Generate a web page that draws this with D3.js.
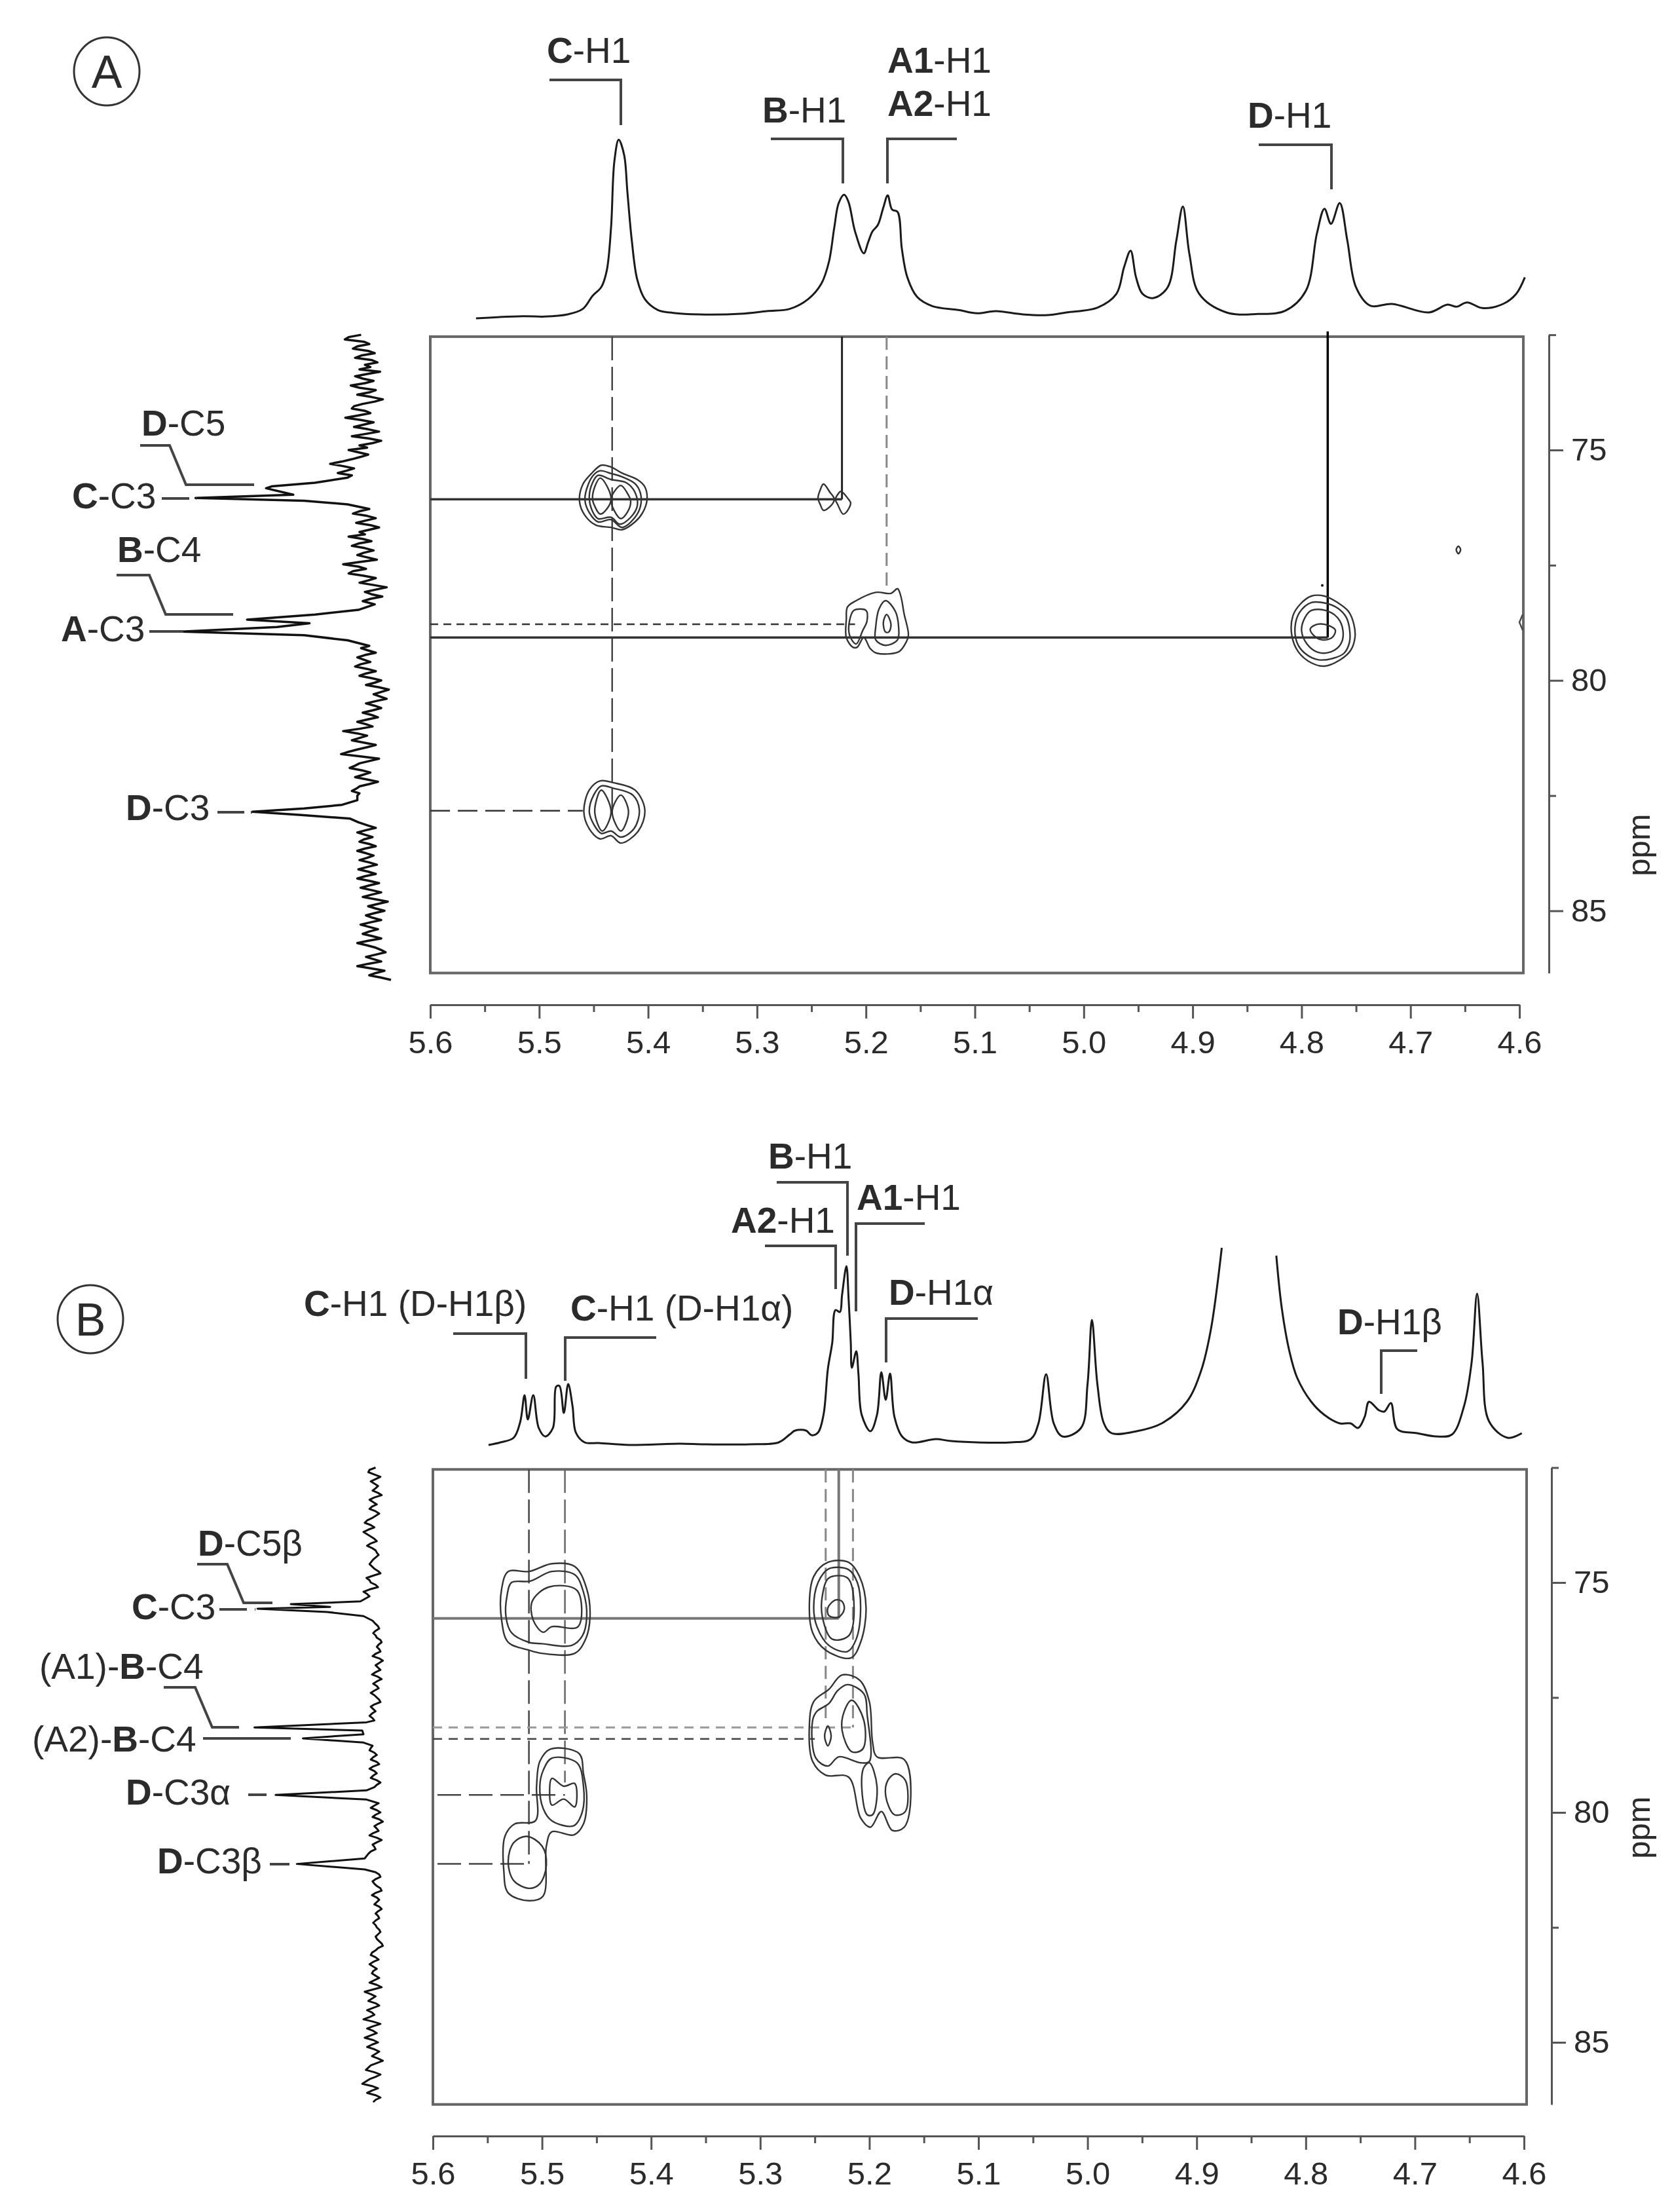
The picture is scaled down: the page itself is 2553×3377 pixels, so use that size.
<!DOCTYPE html>
<html lang="en">
<head>
<meta charset="UTF-8">
<script src="https://d3js.org/d3.v7.min.js"></script>
<title>HSQC spectra</title>
<style>
  body { margin: 0; background: #fff; }
  text { font-family: "Liberation Sans", Arial, sans-serif; fill: #2b2b2b; }
</style>
</head>
<body>
<script>
// axis ticks
var xMajor = [5.6, 5.5, 5.4, 5.3, 5.2, 5.1, 5.0, 4.9, 4.8, 4.7, 4.6];
var xMinor = [5.55, 5.45, 5.35, 5.25, 5.15, 5.05, 4.95, 4.85, 4.75, 4.65];
var yMajor = [75, 80, 85];
var yMinor = [72.5, 77.5, 82.5];

// panel A, 1H trace: [ppm, intensity]
var protonA = [[5.558,12],[5.515,22],[5.495,20],[5.474,30],[5.460,55],[5.451,115],[5.443,155],[5.438,230],[5.434,430],[5.431,730],[5.427,830],[5.422,760],[5.419,590],[5.415,370],[5.410,190],[5.403,100],[5.391,50],[5.377,37],[5.353,30],[5.315,33],[5.291,45],[5.270,55],[5.253,100],[5.241,170],[5.234,270],[5.229,430],[5.225,540],[5.220,578],[5.216,545],[5.210,410],[5.202,310],[5.198,360],[5.194,410],[5.189,440],[5.184,520],[5.180,575],[5.176,510],[5.171,500],[5.167,330],[5.162,200],[5.153,110],[5.139,68],[5.115,50],[5.098,35],[5.081,45],[5.056,30],[5.033,27],[5.016,39],[4.987,62],[4.970,124],[4.963,246],[4.957,322],[4.952,200],[4.946,124],[4.936,105],[4.923,154],[4.915,368],[4.909,524],[4.903,307],[4.894,124],[4.869,39],[4.840,32],[4.815,47],[4.796,139],[4.786,399],[4.779,514],[4.773,445],[4.765,540],[4.758,368],[4.750,154],[4.737,70],[4.717,78],[4.683,39],[4.666,75],[4.658,65],[4.648,85],[4.634,59],[4.615,78],[4.603,124],[4.595,200]];

// panel A, 13C trace: [ppm, intensity]
var carbonA = [[72.5,55],[72.55,78],[72.6,85],[72.65,50],[72.7,40],[72.75,62],[72.8,70],[72.85,42],[72.9,30],[72.95,55],[73.0,66],[73.05,35],[73.1,25],[73.15,48],[73.2,38],[73.25,58],[73.3,20],[73.35,44],[73.4,66],[73.45,52],[73.5,32],[73.55,48],[73.6,74],[73.65,58],[73.7,28],[73.75,40],[73.8,62],[73.85,36],[73.9,15],[73.95,30],[74.0,52],[74.05,68],[74.1,72],[74.15,48],[74.2,38],[74.25,60],[74.3,84],[74.35,55],[74.4,32],[74.45,50],[74.5,68],[74.55,42],[74.6,22],[74.65,46],[74.7,72],[74.75,40],[74.8,18],[74.85,34],[74.9,58],[74.95,44],[75.0,78],[75.05,60],[75.1,42],[75.15,56],[75.2,72],[75.25,90],[75.3,112],[75.35,88],[75.4,68],[75.45,82],[75.5,98],[75.55,72],[75.6,80],[75.71,140],[75.79,220],[75.83,230],[75.97,180],[76.04,360],[76.10,160],[76.18,80],[76.28,40],[76.33,58],[76.38,70],[76.43,44],[76.48,28],[76.53,46],[76.58,64],[76.63,38],[76.68,22],[76.73,40],[76.78,58],[76.83,48],[76.88,78],[76.93,52],[76.98,36],[77.03,60],[77.08,72],[77.13,48],[77.18,32],[77.23,50],[77.28,62],[77.33,44],[77.38,26],[77.43,58],[77.48,88],[77.53,60],[77.58,46],[77.63,70],[77.68,78],[77.73,50],[77.78,28],[77.83,42],[77.88,58],[77.93,32],[77.98,8],[78.03,28],[78.08,48],[78.13,36],[78.18,16],[78.23,38],[78.28,52],[78.35,30],[78.47,60],[78.57,140],[78.68,265],[78.76,150],[78.84,210],[78.94,385],[79.02,160],[79.13,80],[79.25,40],[79.3,55],[79.35,42],[79.4,28],[79.45,48],[79.5,62],[79.55,50],[79.6,38],[79.65,56],[79.7,66],[79.75,44],[79.8,28],[79.85,46],[79.9,58],[79.95,36],[80.0,18],[80.05,30],[80.1,46],[80.15,22],[80.2,4],[80.25,18],[80.3,32],[80.35,20],[80.4,8],[80.45,28],[80.5,46],[80.55,30],[80.6,18],[80.65,34],[80.7,52],[80.75,36],[80.8,24],[80.85,44],[80.9,62],[80.95,46],[81.0,34],[81.05,58],[81.1,88],[81.15,62],[81.2,44],[81.25,58],[81.3,72],[81.35,50],[81.4,28],[81.45,44],[81.5,62],[81.55,78],[81.6,92],[81.65,56],[81.7,22],[81.75,40],[81.8,58],[81.85,66],[81.9,76],[81.95,54],[82.0,38],[82.05,52],[82.1,66],[82.15,44],[82.2,24],[82.25,40],[82.3,58],[82.35,64],[82.4,72],[82.45,58],[82.5,62],[82.6,62],[82.7,90],[82.78,160],[82.85,255],[82.92,165],[83.0,75],[83.08,60],[83.15,42],[83.2,28],[83.25,46],[83.3,62],[83.35,48],[83.4,34],[83.45,50],[83.5,58],[83.55,40],[83.6,28],[83.65,48],[83.7,62],[83.75,46],[83.8,32],[83.85,44],[83.9,58],[83.95,40],[84.0,26],[84.05,44],[84.1,60],[84.15,42],[84.2,28],[84.25,48],[84.3,62],[84.35,40],[84.4,22],[84.45,40],[84.5,56],[84.55,36],[84.6,18],[84.65,36],[84.7,52],[84.75,28],[84.8,6],[84.85,24],[84.9,42],[84.95,28],[85.0,12],[85.05,30],[85.1,46],[85.15,34],[85.2,18],[85.25,38],[85.3,56],[85.35,40],[85.4,24],[85.45,40],[85.5,52],[85.55,34],[85.6,18],[85.65,42],[85.7,62],[85.75,44],[85.8,28],[85.85,18],[85.9,10],[85.95,28],[86.0,46],[86.05,32],[86.1,18],[86.15,42],[86.2,62],[86.25,36],[86.3,12],[86.35,28],[86.4,40],[86.45,18],[86.5,0]];

// panel A cross peaks: contours of [1H ppm, 13C ppm]
var contoursA = [
  // C-H1 / C-C3
  [[5.443,75.33],[5.434,75.37],[5.424,75.50],[5.410,75.64],[5.403,75.80],[5.401,76.08],[5.405,76.36],[5.412,76.56],[5.424,76.73],[5.434,76.68],[5.448,76.63],[5.458,76.42],[5.463,76.11],[5.460,75.75],[5.452,75.51]],
  [[5.444,75.45],[5.434,75.51],[5.424,75.58],[5.412,75.73],[5.407,75.94],[5.407,76.22],[5.412,76.46],[5.424,76.68],[5.434,76.51],[5.446,76.56],[5.454,76.36],[5.458,76.08],[5.455,75.75],[5.450,75.54]],
  [[5.446,75.55],[5.434,75.64],[5.420,75.71],[5.412,75.92],[5.410,76.22],[5.416,76.46],[5.426,76.61],[5.434,76.46],[5.446,76.49],[5.452,76.28],[5.454,76.00],[5.451,75.71]],
  [[5.444,75.61],[5.437,75.82],[5.434,76.07],[5.437,76.25],[5.444,76.39],[5.449,76.22],[5.451,76.07],[5.449,75.80]],
  [[5.425,75.77],[5.419,75.94],[5.416,76.11],[5.419,76.35],[5.425,76.49],[5.431,76.32],[5.434,76.07],[5.431,75.90]],
  // B-H1 / C-C3
  [[5.239,75.74],[5.233,75.92],[5.229,76.07],[5.234,76.25],[5.239,76.31],[5.242,76.18],[5.244,76.04],[5.242,75.87]],
  [[5.223,75.90],[5.216,76.07],[5.214,76.15],[5.218,76.35],[5.221,76.39],[5.226,76.18],[5.228,76.07],[5.226,75.97]],
  // A1/A2-H1 / A-C3
  [[5.218,78.67],[5.217,78.41],[5.209,78.27],[5.191,78.09],[5.177,78.11],[5.171,78.01],[5.168,78.17],[5.165,78.55],[5.161,79.02],[5.164,79.21],[5.170,79.38],[5.190,79.41],[5.196,79.31],[5.202,79.07],[5.208,79.28],[5.212,79.28],[5.218,79.07]],
  [[5.215,78.70],[5.211,78.48],[5.200,78.48],[5.199,78.71],[5.203,78.92],[5.209,79.21],[5.215,79.02]],
  [[5.182,78.27],[5.173,78.50],[5.170,78.84],[5.171,79.12],[5.182,79.24],[5.191,79.12],[5.191,78.84],[5.188,78.45]],
  [[5.181,78.57],[5.177,78.78],[5.179,78.95],[5.182,78.95],[5.184,78.74]],
  // D-H1 / A-C3
  [[4.791,78.17],[4.779,78.17],[4.767,78.31],[4.757,78.50],[4.752,78.78],[4.751,79.07],[4.755,79.35],[4.765,79.56],[4.779,79.69],[4.791,79.62],[4.803,79.38],[4.809,79.02],[4.808,78.60],[4.801,78.34]],
  [[4.791,78.31],[4.777,78.33],[4.767,78.43],[4.759,78.63],[4.756,78.88],[4.756,79.17],[4.761,79.41],[4.771,79.52],[4.785,79.55],[4.797,79.41],[4.804,79.19],[4.806,78.84],[4.802,78.53]],
  [[4.791,78.48],[4.778,78.48],[4.767,78.64],[4.762,78.92],[4.764,79.21],[4.773,79.38],[4.785,79.39],[4.795,79.21],[4.800,78.92],[4.797,78.64]],
  [[4.792,78.88],[4.785,78.78],[4.775,78.81],[4.769,78.91],[4.772,79.07],[4.781,79.12],[4.789,79.02]],
  // C-H1 / D-C3
  [[5.444,82.18],[5.432,82.22],[5.412,82.38],[5.403,82.81],[5.409,83.27],[5.425,83.53],[5.434,83.37],[5.444,83.44],[5.454,83.22],[5.459,82.85],[5.454,82.38]],
  [[5.443,82.29],[5.432,82.34],[5.414,82.49],[5.408,82.82],[5.413,83.22],[5.425,83.40],[5.434,83.27],[5.443,83.32],[5.450,83.12],[5.454,82.85],[5.450,82.49]],
  [[5.443,82.38],[5.434,82.85],[5.442,83.27],[5.449,82.85]],
  [[5.425,82.49],[5.418,82.85],[5.425,83.27],[5.433,82.85]],
  // small spot near 4.65
  [[4.656,77.09],[4.654,77.16],[4.656,77.25],[4.658,77.16]]
];

// panel B, 1H trace, broken by the clipped water peak
var protonB1 = [[5.549,4],[5.538,8],[5.526,15],[5.520,39],[5.516,80],[5.513,43],[5.508,80],[5.503,30],[5.497,17],[5.490,30],[5.487,93],[5.484,94],[5.480,53],[5.476,97],[5.472,63],[5.469,23],[5.461,8],[5.448,7],[5.420,4],[5.374,6],[5.351,5],[5.310,5],[5.283,8],[5.273,20],[5.268,26],[5.258,26],[5.253,19],[5.247,23],[5.242,50],[5.238,120],[5.234,160],[5.231,210],[5.227,207],[5.225,233],[5.221,277],[5.219,227],[5.217,160],[5.216,122],[5.212,147],[5.210,113],[5.207,50],[5.199,25],[5.193,50],[5.189,115],[5.185,73],[5.181,113],[5.177,47],[5.170,17],[5.161,8],[5.139,13],[5.125,10],[5.070,8],[5.052,13],[5.045,37],[5.038,112],[5.031,37],[5.023,17],[5.006,30],[5.000,97],[4.996,195],[4.991,97],[4.985,37],[4.978,22],[4.955,25],[4.932,37],[4.909,70],[4.896,117],[4.887,180],[4.877,305]];
var protonB2 = [[4.827,293],[4.822,213],[4.815,147],[4.808,107],[4.795,70],[4.783,50],[4.769,37],[4.759,37],[4.752,30],[4.746,47],[4.742,70],[4.733,57],[4.728,55],[4.722,68],[4.716,28],[4.698,22],[4.680,17],[4.666,20],[4.655,63],[4.648,130],[4.643,235],[4.638,130],[4.632,40],[4.615,15],[4.602,22]];

// panel B, 13C trace
var carbonB = [[72.5,20],[72.55,30],[72.6,32],[72.65,22],[72.7,12],[72.75,20],[72.8,28],[72.85,22],[72.9,16],[72.95,20],[73.0,25],[73.05,16],[73.1,10],[73.15,22],[73.2,30],[73.25,24],[73.3,18],[73.35,26],[73.4,30],[73.45,20],[73.5,14],[73.55,20],[73.6,26],[73.65,34],[73.7,38],[73.75,28],[73.8,22],[73.85,32],[73.9,40],[73.95,34],[74.0,28],[74.05,22],[74.1,18],[74.15,28],[74.2,34],[74.25,26],[74.3,20],[74.35,18],[74.4,15],[74.5,24],[74.6,30],[74.65,26],[74.7,22],[74.75,16],[74.8,12],[74.85,24],[74.9,35],[74.95,30],[75.0,28],[75.05,20],[75.1,16],[75.15,30],[75.2,40],[75.25,34],[75.3,30],[75.41,45],[75.47,160],[75.53,95],[75.57,215],[75.64,100],[75.73,40],[75.83,25],[75.9,20],[75.95,16],[76.0,14],[76.05,20],[76.1,24],[76.15,20],[76.2,18],[76.25,12],[76.3,10],[76.35,15],[76.4,18],[76.45,14],[76.5,12],[76.55,20],[76.6,25],[76.65,14],[76.7,8],[76.75,14],[76.8,20],[76.85,16],[76.9,12],[76.95,20],[77.0,26],[77.05,16],[77.1,10],[77.15,18],[77.2,24],[77.25,18],[77.3,15],[77.35,22],[77.4,28],[77.45,22],[77.5,18],[77.55,14],[77.6,12],[77.65,22],[77.7,28],[77.75,24],[77.8,20],[77.85,26],[77.9,30],[77.95,25],[78.0,22],[78.04,35],[78.15,220],[78.22,42],[78.3,40],[78.39,140],[78.48,40],[78.55,25],[78.6,28],[78.65,30],[78.7,22],[78.75,18],[78.8,24],[78.85,28],[78.9,18],[78.95,14],[79.0,24],[79.05,30],[79.1,22],[79.15,18],[79.2,24],[79.25,28],[79.3,18],[79.35,12],[79.4,18],[79.45,22],[79.52,35],[79.62,185],[79.72,35],[79.8,15],[79.85,22],[79.9,28],[79.95,18],[80.0,12],[80.05,20],[80.1,25],[80.15,14],[80.2,8],[80.25,16],[80.3,22],[80.35,18],[80.4,15],[80.45,24],[80.5,30],[80.55,18],[80.6,10],[80.65,18],[80.7,25],[80.75,22],[80.8,20],[80.85,28],[80.9,32],[81.0,38],[81.12,150],[81.24,38],[81.3,20],[81.35,14],[81.4,12],[81.45,20],[81.5,25],[81.55,22],[81.6,18],[81.65,12],[81.7,10],[81.75,20],[81.8,26],[81.85,18],[81.9,14],[81.95,18],[82.0,22],[82.05,14],[82.1,10],[82.15,16],[82.2,20],[82.25,16],[82.3,14],[82.35,20],[82.4,24],[82.45,20],[82.5,18],[82.55,14],[82.6,12],[82.65,16],[82.7,20],[82.75,18],[82.8,14],[82.85,10],[82.9,8],[82.95,16],[83.0,20],[83.05,26],[83.1,28],[83.15,20],[83.2,15],[83.25,24],[83.3,30],[83.35,24],[83.4,18],[83.45,24],[83.5,26],[83.55,20],[83.6,14],[83.65,22],[83.7,30],[83.75,18],[83.8,10],[83.85,24],[83.9,38],[83.95,28],[84.0,20],[84.05,26],[84.1,32],[84.15,20],[84.2,14],[84.25,24],[84.3,34],[84.35,26],[84.4,22],[84.45,30],[84.5,40],[84.55,24],[84.6,12],[84.65,24],[84.7,34],[84.75,24],[84.8,18],[84.85,28],[84.9,38],[84.95,24],[85.0,16],[85.05,26],[85.1,34],[85.15,22],[85.2,14],[85.25,20],[85.3,26],[85.35,16],[85.4,8],[85.45,18],[85.5,28],[85.55,32],[85.6,36],[85.65,22],[85.7,12],[85.75,20],[85.8,30],[85.85,36],[85.9,42],[85.95,26],[86.0,16],[86.05,26],[86.1,34],[86.15,20],[86.2,12],[86.25,20],[86.3,24]];

// panel B cross peaks
var contoursB = [
  [[5.531,74.76],[5.512,74.76],[5.491,74.59],[5.470,74.65],[5.459,75.14],[5.456,75.75],[5.460,76.23],[5.470,76.54],[5.500,76.54],[5.512,76.47],[5.531,76.30],[5.537,75.82],[5.537,75.14]],
  [[5.528,75.00],[5.511,74.97],[5.491,74.76],[5.470,74.83],[5.462,75.21],[5.459,75.75],[5.463,76.16],[5.473,76.37],[5.500,76.33],[5.512,76.30],[5.528,76.09],[5.533,75.75],[5.532,75.28]],
  [[5.509,75.41],[5.494,75.10],[5.468,75.17],[5.467,75.96],[5.491,75.96],[5.499,76.08],[5.508,75.82]],
  [[5.238,74.56],[5.219,74.56],[5.209,74.87],[5.203,75.55],[5.208,76.30],[5.217,76.64],[5.240,76.47],[5.252,76.09],[5.255,75.55],[5.251,74.87]],
  [[5.237,74.70],[5.219,74.72],[5.211,75.00],[5.208,75.55],[5.212,76.23],[5.220,76.50],[5.237,76.37],[5.248,75.96],[5.251,75.55],[5.247,75.00]],
  [[5.237,74.90],[5.220,74.90],[5.214,75.55],[5.219,76.16],[5.234,76.23],[5.243,75.75],[5.243,75.28]],
  [[5.231,75.38],[5.225,75.41],[5.223,75.58],[5.228,75.75],[5.237,75.72],[5.238,75.55]],
  [[5.225,77.01],[5.209,77.12],[5.200,77.59],[5.197,78.48],[5.193,78.79],[5.168,78.85],[5.162,79.64],[5.168,80.32],[5.179,80.39],[5.189,79.98],[5.199,80.32],[5.208,80.12],[5.219,79.23],[5.240,79.19],[5.252,78.89],[5.255,78.14],[5.251,77.59],[5.237,77.32]],
  [[5.220,77.22],[5.205,77.42],[5.202,77.87],[5.200,78.89],[5.208,78.92],[5.228,78.79],[5.238,78.99],[5.249,78.82],[5.252,78.00],[5.248,77.80],[5.237,77.63],[5.229,77.35]],
  [[5.216,77.56],[5.205,78.00],[5.206,78.62],[5.216,78.68],[5.225,78.21],[5.223,77.80]],
  [[5.238,78.12],[5.235,78.34],[5.238,78.55],[5.241,78.34]],
  [[5.200,78.92],[5.193,79.43],[5.197,80.05],[5.202,80.05],[5.207,79.43],[5.205,79.02]],
  [[5.176,79.16],[5.167,79.30],[5.167,79.98],[5.177,80.05],[5.185,79.64],[5.183,79.30]],
  [[5.492,78.62],[5.466,78.72],[5.462,79.16],[5.459,79.64],[5.462,80.25],[5.471,80.49],[5.491,80.42],[5.496,80.73],[5.499,81.82],[5.512,81.92],[5.531,81.75],[5.535,81.27],[5.534,80.52],[5.525,80.25],[5.506,80.18],[5.505,79.43],[5.502,78.89]],
  [[5.491,78.82],[5.468,78.92],[5.462,79.43],[5.463,79.98],[5.471,80.29],[5.491,80.18],[5.499,79.91],[5.502,79.43],[5.499,79.09]],
  [[5.491,79.26],[5.480,79.43],[5.470,79.37],[5.470,79.88],[5.480,79.71],[5.491,79.84],[5.493,79.54]],
  [[5.514,80.52],[5.500,80.73],[5.496,81.14],[5.502,81.55],[5.512,81.65],[5.526,81.48],[5.531,81.07],[5.526,80.66]]
];

var svg = d3.select("body").append("svg")
  .attr("width", 2553)
  .attr("height", 3377);

// scales of both panels
var xA = d3.scaleLinear().domain([5.6, 4.6]).range([657, 2320]);
var yA = d3.scaleLinear().domain([75, 85]).range([687, 1390.5]);
var hA = d3.scaleLinear().domain([0, 930]).range([490, 180]);
var cA = d3.scaleLinear().domain([0, 720]).range([597, 0]);

var xB = d3.scaleLinear().domain([5.6, 4.6]).range([661, 2327]);
var yB = d3.scaleLinear().domain([75, 85]).range([2416, 3118]);
var hB = d3.scaleLinear().domain([0, 400]).range([2210, 1810]);
var cB = d3.scaleLinear().domain([0, 640]).range([592, 0]);

function drawAxes(x, y, rectRight, axisY, axisX) {
  var top = y(72.54), bottom = y(86.35);
  svg.append("rect")
    .attr("x", x(5.6)).attr("y", top)
    .attr("width", rectRight - x(5.6)).attr("height", bottom - top)
    .attr("fill", "none").attr("stroke", "#666").attr("stroke-width", 4);

  var bottomMinor = d3.axisBottom(x).tickValues(xMinor).tickSize(11).tickFormat("").tickSizeOuter(0);
  var bottomMajor = d3.axisBottom(x).tickValues(xMajor).tickSize(21).tickPadding(18).tickSizeOuter(0)
    .tickFormat(d3.format(".1f"));
  [bottomMinor, bottomMajor].forEach(function (a) {
    var g = svg.append("g").attr("transform", "translate(0," + axisY + ")").call(a);
    styleAxis(g);
  });

  var yFull = y.copy().domain([72.5, 86.35]).range([y(72.5), y(86.35)]);
  var rightMinor = d3.axisRight(yFull).tickValues(yMinor).tickSize(11).tickFormat("").tickSizeOuter(0);
  var rightMajor = d3.axisRight(yFull).tickValues(yMajor).tickSize(22).tickPadding(12).tickSizeOuter(0);
  [rightMinor, rightMajor].forEach(function (a) {
    var g = svg.append("g").attr("transform", "translate(" + axisX + ",0)").call(a);
    styleAxis(g);
  });
}

function styleAxis(g) {
  g.selectAll("path, line").attr("stroke", "#555").attr("stroke-width", 3);
  g.selectAll("text").attr("font-size", 49).attr("font-family", "Liberation Sans").attr("fill", "#2b2b2b");
}

function protonTrace(points, x, h) {
  var line = d3.line()
    .x(function (d) { return x(d[0]); })
    .y(function (d) { return h(d[1]); })
    .curve(d3.curveCatmullRom.alpha(0.5));
  svg.append("path").attr("d", line(points))
    .attr("fill", "none").attr("stroke", "#1a1a1a").attr("stroke-width", 3);
}

function carbonTrace(points, y, c, width) {
  var line = d3.line()
    .x(function (d) { return c(d[1]); })
    .y(function (d) { return y(d[0]); });
  svg.append("path").attr("d", line(points))
    .attr("fill", "none").attr("stroke", "#111").attr("stroke-width", width)
    .attr("stroke-linejoin", "round");
}

function drawContours(list, x, y) {
  var line = d3.line()
    .x(function (d) { return x(d[0]); })
    .y(function (d) { return y(d[1]); })
    .curve(d3.curveCatmullRomClosed.alpha(0.5));
  svg.append("g").selectAll("path").data(list).enter().append("path")
    .attr("d", line)
    .attr("fill", "none").attr("stroke", "#333").attr("stroke-width", 2.4);
}

function seg(x1, y1, x2, y2, color, width, dash) {
  svg.append("line")
    .attr("x1", x1).attr("y1", y1).attr("x2", x2).attr("y2", y2)
    .attr("stroke", color).attr("stroke-width", width)
    .attr("stroke-dasharray", dash || null);
}

function poly(pts, color, width) {
  svg.append("polyline")
    .attr("points", pts.join(" "))
    .attr("fill", "none").attr("stroke", color || "#444").attr("stroke-width", width || 4);
}

function label(x, y, pre, bold, post) {
  var t = svg.append("text").attr("x", x).attr("y", y).attr("font-size", 55);
  if (pre) t.append("tspan").text(pre);
  t.append("tspan").attr("font-weight", "bold").text(bold);
  if (post) t.append("tspan").text(post);
}

function panelMark(cx, cy, name) {
  svg.append("ellipse").attr("cx", cx).attr("cy", cy).attr("rx", 50).attr("ry", 52)
    .attr("fill", "none").attr("stroke", "#333").attr("stroke-width", 3);
  svg.append("text").attr("x", cx).attr("y", cy + 25).attr("text-anchor", "middle")
    .attr("font-size", 70).text(name);
}

function ppmLabel(y) {
  svg.append("text").attr("transform", "translate(2519," + y + ") rotate(-90)")
    .attr("text-anchor", "middle").attr("font-size", 49).text("ppm");
}

// ---------- panel A ----------
drawAxes(xA, yA, 2326, 1534, 2365);
protonTrace(protonA, xA, hA);
carbonTrace(carbonA, yA, cA, 3.5);

// guide lines
seg(xA(5.433), yA(72.54), xA(5.433), yA(82.83), "#444", 2.5, "36,10");
seg(xA(5.222), yA(72.54), xA(5.222), yA(76.07), "#222", 3);
seg(xA(5.181), yA(72.54), xA(5.181), yA(78.0), "#888", 3, "20,10");
seg(xA(4.776), 506, xA(4.776), yA(79.07), "#000", 3.5);
seg(xA(5.6), yA(76.07), xA(5.222), yA(76.07), "#333", 3.5);
seg(xA(5.6), yA(79.07), xA(4.776), yA(79.07), "#333", 3.5);
seg(xA(5.6), yA(78.78), xA(5.21), yA(78.78), "#333", 2.5, "12,8");
seg(xA(5.6), yA(82.83), xA(5.46), yA(82.83), "#333", 2.5, "30,12");

drawContours(contoursA, xA, yA);
svg.append("circle").attr("cx", xA(4.781)).attr("cy", yA(77.94)).attr("r", 2).attr("fill", "#111");
poly([[xA(4.597), yA(78.57)], [xA(4.600), yA(78.74)], [xA(4.597), yA(78.91)]], "#444", 2.4);

panelMark(163, 109, "A");
ppmLabel(1290);

label(835, 96, "", "C", "-H1");
poly([[839, 122], [948, 122], [948, 191]]);
label(1164, 187, "", "B", "-H1");
poly([[1177, 212], [1287, 212], [1287, 280]]);
label(1355, 111, "", "A1", "-H1");
label(1355, 177, "", "A2", "-H1");
poly([[1461, 212], [1355, 212], [1355, 280]]);
label(1905, 195, "", "D", "-H1");
poly([[1922, 221], [2033, 221], [2033, 289]]);

label(216, 665, "", "D", "-C5");
poly([[214, 680], [259, 680], [284, 740], [388, 740]]);
label(110, 776, "", "C", "-C3");
seg(247, 761, 300, 761, "#444", 4, "42,10");
label(179, 858, "", "B", "-C4");
poly([[178, 878], [228, 878], [253, 938], [356, 938]]);
label(93, 979, "", "A", "-C3");
seg(228, 964, 280, 964, "#444", 4);
label(192, 1252, "", "D", "-C3");
seg(332, 1240, 385, 1240, "#444", 4, "41,10");

// ---------- panel B ----------
drawAxes(xB, yB, 2331, 3261, 2369);
protonTrace(protonB1, xB, hB);
protonTrace(protonB2, xB, hB);
carbonTrace(carbonB, yB, cB, 3);

seg(xB(5.512), yB(72.54), xB(5.512), yB(81.12), "#444", 2.5, "36,10");
seg(xB(5.479), yB(72.54), xB(5.479), yB(79.35), "#666", 2.5, "36,10");
seg(xB(5.240), yB(72.54), xB(5.240), yB(77.95), "#888", 3, "20,10");
seg(xB(5.215), yB(72.54), xB(5.215), yB(78.15), "#888", 3, "20,10");
seg(xB(5.228), yB(72.54), xB(5.228), yB(75.78), "#777", 4);
seg(xB(5.6), yB(75.78), xB(5.228), yB(75.78), "#777", 4);
seg(xB(5.6), yB(78.15), xB(5.215), yB(78.15), "#999", 3, "14,10");
seg(xB(5.6), yB(78.40), xB(5.25), yB(78.40), "#444", 2.5, "14,10");
seg(668, yB(79.62), xB(5.479), yB(79.62), "#444", 2.5, "36,12");
seg(668, yB(81.12), xB(5.512), yB(81.12), "#444", 2.5, "36,12");

drawContours(contoursB, xB, yB);

panelMark(138, 2014, "B");
ppmLabel(2790);

label(464, 2009, "", "C", "-H1 (D-H1\u03b2)");
poly([[692, 2036], [803, 2036], [803, 2105]]);
label(871, 2016, "", "C", "-H1 (D-H1\u03b1)");
poly([[1002, 2042], [863, 2042], [863, 2108]]);
label(1173, 1784, "", "B", "-H1");
poly([[1186, 1805], [1294, 1805], [1294, 1917]]);
label(1308, 1847, "", "A1", "-H1");
poly([[1412, 1868], [1307, 1868], [1307, 2002]]);
label(1116, 1882, "", "A2", "-H1");
poly([[1168, 1902], [1276, 1902], [1276, 1968]]);
label(1357, 1992, "", "D", "-H1\u03b1");
poly([[1493, 2013], [1353, 2013], [1353, 2080]]);
label(2042, 2037, "", "D", "-H1\u03b2");
poly([[2164, 2062], [2109, 2062], [2109, 2128]]);

label(302, 2375, "", "D", "-C5\u03b2");
poly([[301, 2388], [347, 2388], [372, 2447], [416, 2447]]);
label(201, 2472, "", "C", "-C3");
seg(335, 2457, 390, 2457, "#444", 4, "42,12");
label(60, 2563, "(A1)-", "B", "-C4");
poly([[250, 2576], [298, 2576], [324, 2637], [365, 2637]]);
label(49, 2674, "(A2)-", "B", "-C4");
seg(310, 2654, 444, 2654, "#444", 4);
label(192, 2755, "", "D", "-C3\u03b1");
seg(379, 2740, 407, 2740, "#444", 4);
label(240, 2860, "", "D", "-C3\u03b2");
seg(412, 2846, 442, 2846, "#444", 4);
</script>
</body>
</html>
